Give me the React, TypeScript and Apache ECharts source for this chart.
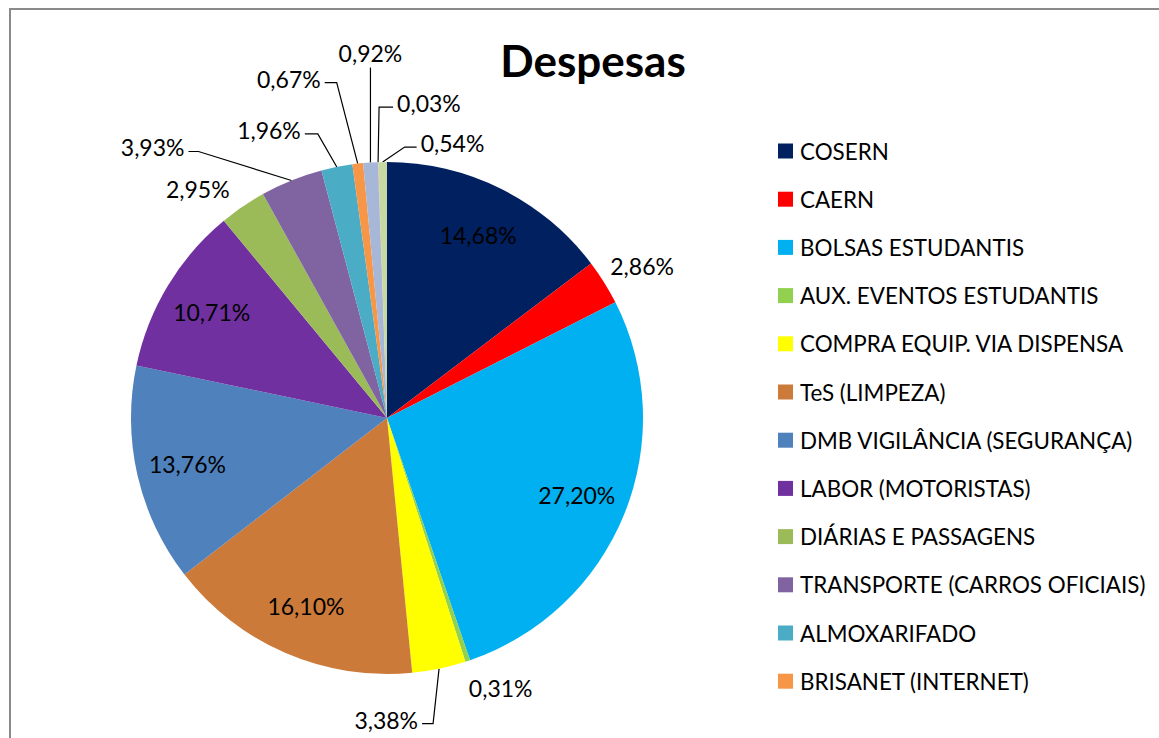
import React, { useEffect, useRef } from 'react';
import * as echarts from 'echarts';

// ---- data ----
const categories = [
  'COSERN',
  'CAERN',
  'BOLSAS ESTUDANTIS',
  'AUX. EVENTOS ESTUDANTIS',
  'COMPRA EQUIP. VIA DISPENSA',
  'TeS (LIMPEZA)',
  'DMB VIGILÂNCIA (SEGURANÇA)',
  'LABOR (MOTORISTAS)',
  'DIÁRIAS E PASSAGENS',
  'TRANSPORTE (CARROS OFICIAIS)',
  'ALMOXARIFADO',
  'BRISANET (INTERNET)',
  'OUTROS 1',
  'OUTROS 2',
  'OUTROS 3',
];
const percentages = [14.68, 2.86, 27.2, 0.31, 3.38, 16.1, 13.76, 10.71, 2.95, 3.93, 1.96, 0.67, 0.92, 0.03, 0.54];
const legendVisibleCount = 12;
const title = 'Despesas';

// ---- styles ----
const colors = [
  '#002060', '#FF0000', '#00B0F0', '#92D050', '#FFFF00', '#CC7A3A', '#4F81BD', '#7030A0',
  '#9BBB59', '#8064A2', '#4BACC6', '#F79646', '#A7B7D8', '#D99694', '#C6D9A3',
];

// label placement relative to the slice's outer edge point (layout only)
type Spec =
  | { kind: 'inside' }
  | { kind: 'near'; off: [number, number] }
  | { kind: 'elbow'; knee: [number, number]; end: [number, number]; align: 'left' | 'right' }
  | { kind: 'vertical'; end: [number, number] };
const labelPlacement: Spec[] = [
  { kind: 'inside' },
  { kind: 'near', off: [38, -16] },
  { kind: 'inside' },
  { kind: 'near', off: [33, 27] },
  { kind: 'elbow', knee: [-6, 55], end: [-17, 55], align: 'right' },
  { kind: 'inside' },
  { kind: 'inside' },
  { kind: 'inside' },
  { kind: 'near', off: [-45, -17] },
  { kind: 'elbow', knee: [-93, -29], end: [-103, -29], align: 'right' },
  { kind: 'elbow', knee: [-19, -33], end: [-32, -33], align: 'right' },
  { kind: 'elbow', knee: [-21, -81], end: [-33, -81], align: 'right' },
  { kind: 'vertical', end: [0, -95] },
  { kind: 'elbow', knee: [1, -55], end: [15, -55], align: 'left' },
  { kind: 'elbow', knee: [22, -15], end: [34, -15], align: 'left' },
];

const CX = 387;
const CY = 418;
const R = 256;
const FONT = 'Lato, "Open Sans", sans-serif';

export default function App() {
  const ref = useRef<HTMLDivElement>(null);
  useEffect(() => {
    if (!ref.current) return;
    const chart = echarts.init(ref.current, undefined, { renderer: 'svg' });
    const data = categories.map((name, i) => ({
      name,
      value: percentages[i],
      itemStyle: { color: colors[i] },
    }));
    chart.setOption({
      animation: false,
      backgroundColor: '#ffffff',
      graphic: [
        {
          type: 'rect',
          shape: { x: 10, y: 9, width: 1300, height: 900 },
          style: { fill: 'none', stroke: '#8a8a8a', lineWidth: 2 },
          silent: true,
        },
        {
          type: 'text',
          x: 593,
          y: 60,
          style: {
            text: title,
            align: 'center',
            verticalAlign: 'middle',
            font: `bold 44px ${FONT}`,
            fill: '#000',
          },
        },
      ],
      legend: {
        orient: 'vertical',
        left: 778,
        top: 139,
        padding: 0,
        data: categories.slice(0, legendVisibleCount),
        icon: 'rect',
        itemWidth: 15,
        itemHeight: 15,
        itemGap: 24.2,
        selectedMode: false,
        textStyle: {
          fontFamily: FONT,
          fontSize: 22.4,
          color: '#000',
          lineHeight: 24,
          padding: [0, 0, 0, 2],
        },
      },
      series: [
        {
          type: 'pie',
          center: [CX, CY],
          radius: R,
          startAngle: 90,
          clockwise: true,
          avoidLabelOverlap: false,
          data,
          label: {
            show: true,
            position: 'outside',
            color: '#000',
            fontFamily: FONT,
            fontSize: 23,
            formatter: (p: any) => p.value.toFixed(2).replace('.', ',') + '%',
          },
          labelLine: {
            show: true,
            length: 10,
            length2: 10,
            lineStyle: { color: '#000', width: 1.2 },
          },
          labelLayout: (params: any) => {
            const spec = labelPlacement[params.dataIndex];
            const pts = params.labelLinePoints;
            if (!pts || !spec) return {};
            const E = pts[0];
            if (spec.kind === 'inside') {
              const f = 0.8;
              return {
                x: CX + f * (E[0] - CX),
                y: CY + f * (E[1] - CY),
                align: 'center',
                verticalAlign: 'middle',
                labelLinePoints: [E, E, E],
              };
            }
            if (spec.kind === 'near') {
              return {
                x: E[0] + spec.off[0],
                y: E[1] + spec.off[1],
                align: 'center',
                verticalAlign: 'middle',
                labelLinePoints: [E, E, E],
              };
            }
            if (spec.kind === 'vertical') {
              const end = [E[0] + spec.end[0], E[1] + spec.end[1]];
              return {
                x: end[0],
                y: end[1] - 15,
                align: 'center',
                verticalAlign: 'middle',
                labelLinePoints: [E, end, end],
              };
            }
            const knee = [E[0] + spec.knee[0], E[1] + spec.knee[1]];
            const end = [E[0] + spec.end[0], E[1] + spec.end[1]];
            return {
              x: end[0] + (spec.align === 'right' ? -4 : 4),
              y: end[1] - 4,
              align: spec.align,
              verticalAlign: 'middle',
              labelLinePoints: [E, knee, end],
            };
          },
        },
      ],
    });
    return () => chart.dispose();
  }, []);
  return (
    <div
      ref={ref}
      style={{ position: 'fixed', left: 0, top: 0, width: 1159, height: 738, background: '#fff' }}
    />
  );
}
